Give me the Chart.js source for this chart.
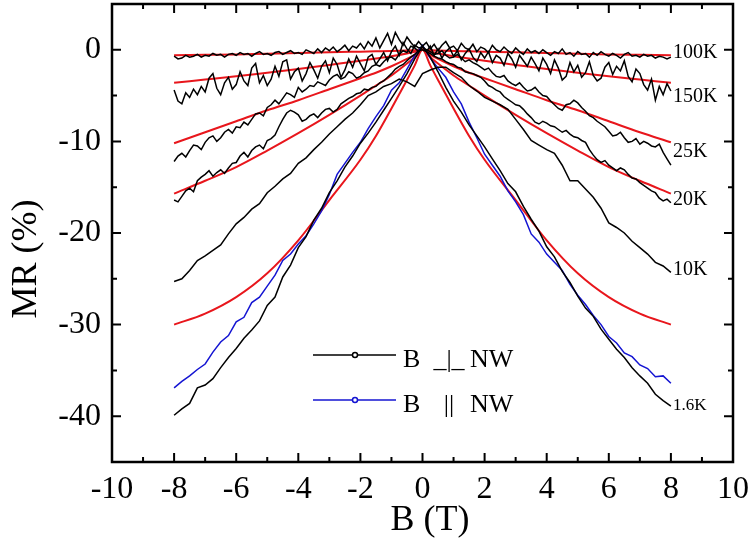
<!DOCTYPE html>
<html>
<head>
<meta charset="utf-8">
<title>MR vs B</title>
<script src="https://cdn.jsdelivr.net/npm/chart.js@4.4.0/dist/chart.umd.min.js"></script>
<style>
  html, body { margin: 0; padding: 0; background: #fff; }
  canvas { display: block; }
</style>
</head>
<body>
<canvas id="mrChart" width="754" height="549"></canvas>
<script>
// magnetic field (T), coarse grid for the low temperature curves
const bField = [-8,-7.75,-7.5,-7.25,-7,-6.75,-6.5,-6.25,-6,-5.75,-5.5,-5.25,-5,-4.75,-4.5,-4.25,
    -4,-3.75,-3.5,-3.25,-3,-2.75,-2.5,-2.25,-2,-1.75,-1.5,-1.25,-1,-0.75,-0.5,-0.25,
    0,0.25,0.5,0.75,1,1.25,1.5,1.75,2,2.25,2.5,2.75,3,3.25,3.5,3.75,
    4,4.25,4.5,4.75,5,5.25,5.5,5.75,6,6.25,6.5,6.75,7,7.25,7.5,7.75,8];

// fine grid for the noisier curves
const bFine = [-8,-7.875,-7.75,-7.625,-7.5,-7.375,-7.25,-7.125,
    -7,-6.875,-6.75,-6.625,-6.5,-6.375,-6.25,-6.125,
    -6,-5.875,-5.75,-5.625,-5.5,-5.375,-5.25,-5.125,
    -5,-4.875,-4.75,-4.625,-4.5,-4.375,-4.25,-4.125,
    -4,-3.875,-3.75,-3.625,-3.5,-3.375,-3.25,-3.125,
    -3,-2.875,-2.75,-2.625,-2.5,-2.375,-2.25,-2.125,
    -2,-1.875,-1.75,-1.625,-1.5,-1.375,-1.25,-1.125,
    -1,-0.875,-0.75,-0.625,-0.5,-0.375,-0.25,-0.125,
    0,0.125,0.25,0.375,0.5,0.625,0.75,0.875,
    1,1.125,1.25,1.375,1.5,1.625,1.75,1.875,
    2,2.125,2.25,2.375,2.5,2.625,2.75,2.875,
    3,3.125,3.25,3.375,3.5,3.625,3.75,3.875,
    4,4.125,4.25,4.375,4.5,4.625,4.75,4.875,
    5,5.125,5.25,5.375,5.5,5.625,5.75,5.875,
    6,6.125,6.25,6.375,6.5,6.625,6.75,6.875,
    7,7.125,7.25,7.375,7.5,7.625,7.75,7.875,
    8];

// MR (%) with B perpendicular to the nanowire (fine grid)
const mr100K = [-0.7,-1.0,-0.9,-0.6,-0.8,-0.7,-0.5,-0.8,
    -0.6,-0.7,-0.4,-0.6,-0.5,-0.8,-0.5,-0.4,
    -0.6,-0.3,-0.5,-0.4,-0.7,-0.4,-0.2,-0.5,
    -0.4,-0.6,-0.3,-0.2,-0.5,-0.3,-0.1,-0.4,
    -0.3,-0.5,0.0,-0.2,-0.4,0.1,-0.3,0.2,
    -0.1,0.3,-0.2,0.1,0.5,-0.1,0.4,0.2,
    0.7,0.1,0.9,0.4,1.3,0.2,1.0,1.8,
    0.6,1.9,1.1,0.5,1.4,0.8,0.3,0.9,
    0.4,0.8,0.1,0.6,-0.1,0.5,0.9,0.2,
    0.4,-0.1,0.7,0.2,0.0,0.6,-0.2,0.3,
    0.1,-0.3,0.5,0.0,-0.2,0.3,-0.1,-0.4,
    0.2,-0.2,-0.5,0.1,-0.3,-0.1,-0.4,0.0,
    -0.3,-0.6,-0.2,-0.4,0.1,-0.5,-0.3,-0.7,
    -0.2,-0.5,-0.4,-0.8,-0.3,-0.6,-0.2,-0.5,
    -0.7,-0.4,-0.6,-0.9,-0.5,-0.3,-0.7,-0.6,
    -0.8,-0.5,-0.7,-0.6,-0.9,-0.7,-0.8,-1.0,
    -0.8];
const mr150K = [-4.4,-5.6,-5.9,-4.7,-5.2,-4.3,-4.9,-4.0,
    -4.6,-3.1,-2.6,-4.2,-4.9,-3.6,-3.0,-4.3,
    -3.8,-2.4,-3.4,-3.9,-2.0,-1.5,-3.6,-2.8,
    -3.9,-3.2,-1.8,-2.9,-1.3,-1.1,-3.2,-2.4,
    -2.0,-3.4,-2.6,-1.4,-2.2,-3.1,-1.8,-1.2,
    -2.5,-0.9,-1.6,-3.0,-2.2,-1.0,-1.9,-0.7,
    -1.5,-2.3,-0.8,-0.5,-1.6,-1.0,-0.3,-1.2,
    -0.2,0.4,-0.6,0.8,0.1,-0.4,0.5,0.2,
    0.3,-0.2,0.4,-0.6,0.1,-0.9,-0.2,0.2,
    -0.7,-0.1,-1.1,-0.4,0.1,-0.8,-1.3,-0.3,
    -0.9,-0.2,-1.4,-0.6,-0.9,-1.7,-0.4,-1.0,
    -1.9,-0.6,-1.2,-1.8,-0.8,-1.5,-2.3,-0.9,
    -1.6,-2.6,-1.1,-2.0,-3.3,-2.9,-1.4,-2.4,
    -1.7,-3.0,-2.5,-1.3,-2.8,-3.4,-3.1,-1.9,
    -1.4,-2.7,-1.8,-2.3,-1.2,-2.9,-3.5,-2.1,
    -2.6,-3.8,-4.4,-3.2,-5.5,-4.0,-4.9,-3.7,
    -4.5];
const mr25K = [-12.2,-11.6,-11.3,-11.7,-11.0,-10.4,-10.5,-10.9,
    -10.1,-9.6,-9.4,-10.0,-9.6,-9.0,-8.7,-9.1,
    -8.4,-8.5,-7.9,-8.2,-7.6,-7.0,-6.9,-7.2,
    -6.3,-6.0,-5.5,-5.9,-5.3,-4.7,-4.9,-5.2,
    -4.1,-4.6,-4.3,-3.9,-4.0,-3.5,-3.7,-3.9,
    -3.3,-2.9,-2.7,-3.2,-3.0,-2.4,-2.6,-3.1,
    -2.9,-2.5,-2.3,-1.8,-1.6,-1.8,-1.3,-0.9,
    -0.8,-1.1,-0.5,-0.1,-0.3,0.4,0.2,-0.2,
    0.3,0.0,-0.2,-0.5,-0.4,-0.1,-0.6,-0.9,
    -0.8,-0.5,-0.9,-1.3,-1.1,-1.4,-1.6,-1.9,
    -2.2,-2.0,-2.5,-2.9,-3.0,-2.8,-3.4,-3.7,
    -3.9,-3.6,-4.1,-4.5,-4.4,-4.1,-4.6,-5.0,
    -5.1,-5.6,-6.0,-6.4,-6.6,-6.0,-5.9,-5.5,
    -5.8,-6.3,-6.7,-7.2,-7.4,-7.8,-8.1,-8.4,
    -8.9,-9.4,-9.3,-9.0,-9.6,-10.1,-10.0,-9.7,
    -10.3,-10.0,-10.2,-10.5,-10.6,-10.3,-11.2,-11.9,
    -12.6];
const mr20K = [-16.4,-16.6,-16.0,-15.4,-15.1,-15.5,-14.3,-13.9,
    -13.6,-13.2,-13.8,-13.4,-13.1,-13.5,-12.9,-12.4,
    -12.3,-11.6,-11.2,-11.7,-11.0,-10.6,-10.4,-10.8,
    -9.9,-9.7,-9.3,-8.4,-7.6,-6.9,-6.6,-6.8,
    -7.1,-7.8,-7.6,-7.2,-7.0,-7.4,-6.9,-6.5,
    -6.4,-6.8,-6.5,-5.9,-5.6,-5.3,-5.1,-4.8,
    -4.7,-4.3,-4.4,-4.1,-4.0,-3.6,-3.4,-3.0,
    -2.6,-2.1,-1.8,-1.6,-1.2,-0.8,-0.5,-0.1,
    0.0,-0.2,-0.4,-0.7,-0.9,-1.0,-1.3,-1.5,
    -1.6,-1.9,-2.0,-2.4,-2.5,-2.6,-2.8,-3.0,
    -3.4,-3.9,-4.1,-4.4,-4.6,-5.1,-5.4,-5.7,
    -6.0,-6.1,-6.5,-7.0,-7.4,-7.9,-8.1,-7.8,
    -8.0,-8.3,-8.4,-8.7,-9.0,-8.8,-9.2,-9.5,
    -9.6,-9.9,-10.1,-10.9,-11.5,-12.0,-12.3,-12.1,
    -12.6,-12.9,-13.2,-12.9,-13.1,-13.6,-14.0,-14.1,
    -14.5,-14.8,-15.1,-15.4,-15.6,-16.2,-16.5,-16.3,
    -16.7];

// MR (%) with B perpendicular to the nanowire (coarse grid)
const mr10K = [-25.3,-25.0,-24.1,-23.0,-22.5,-21.9,-21.3,-20.1,-19.0,-18.3,-17.4,-16.8,-15.6,-14.9,-14.1,-13.5,
    -12.4,-11.8,-10.9,-10.1,-9.2,-8.4,-7.6,-6.9,-6.0,-5.0,-4.6,-4.0,-3.7,-3.2,-3.5,-4.0,
    -2.6,-2.2,-1.9,-1.9,-2.5,-3.0,-3.9,-4.5,-5.2,-5.6,-6.0,-6.5,-7.6,-8.7,-9.9,-10.4,
    -10.9,-11.3,-12.6,-14.3,-14.3,-15.2,-16.1,-17.3,-18.9,-19.4,-20.0,-20.9,-21.6,-22.3,-23.2,-23.6,-24.3];
const mr1p6K = [-39.9,-39.2,-38.6,-36.9,-36.6,-35.9,-34.7,-33.6,-32.6,-31.5,-30.6,-29.6,-27.9,-27.0,-24.8,-23.5,
    -21.6,-20.4,-18.6,-17.3,-15.6,-14.3,-12.8,-11.6,-10.2,-9.1,-7.9,-6.6,-5.3,-4.0,-2.6,-1.0,
    0.4,-0.8,-2.4,-4.1,-5.6,-6.8,-8.2,-9.4,-10.6,-11.9,-13.2,-14.6,-15.5,-17.1,-18.5,-19.8,
    -21.5,-22.6,-24.2,-25.4,-26.9,-28.2,-29.1,-30.5,-31.6,-32.7,-33.6,-34.7,-35.6,-36.4,-37.6,-38.3,-38.9];

// MR (%) with B parallel to the nanowire, 1.6K
const mr1p6KPar = [-36.9,-36.2,-35.6,-34.9,-34.3,-33.0,-31.9,-31.2,-29.7,-29.2,-27.6,-27.0,-25.8,-24.6,-23.0,-22.3,
    -21.2,-20.3,-19.0,-17.6,-15.8,-13.6,-12.4,-11.2,-10.1,-8.6,-7.3,-6.1,-4.4,-3.6,-2.1,-0.6,
    0.5,-0.9,-2.0,-3.0,-4.6,-5.9,-7.9,-9.6,-11.4,-12.6,-13.8,-15.4,-16.6,-18.0,-20.1,-21.0,
    -22.3,-23.2,-24.1,-25.6,-26.8,-27.8,-29.0,-30.0,-31.3,-32.0,-33.1,-33.5,-34.4,-34.8,-35.7,-35.6,-36.4];

// fitted curves (red)
const fitB = [-8,-7,-6,-5,-4,-3,-2,-1.5,-1,-0.5,-0.25,0,0.25,0.5,1,1.5,2,3,4,5,6,7,8];
const fit100K = [-0.6,-0.55,-0.5,-0.42,-0.35,-0.28,-0.2,-0.16,-0.12,-0.07,-0.04,0,-0.04,-0.07,-0.12,-0.16,-0.2,-0.28,-0.35,-0.42,-0.5,-0.55,-0.6];
const fit150K = [-3.6,-3.25,-2.9,-2.5,-2.1,-1.65,-1.2,-0.95,-0.7,-0.4,-0.22,0,-0.22,-0.4,-0.7,-0.95,-1.2,-1.65,-2.1,-2.5,-2.9,-3.25,-3.6];
const fit25K = [-10.2,-9.0,-7.8,-6.6,-5.5,-4.3,-3.1,-2.5,-1.8,-1.0,-0.55,0,-0.55,-1.0,-1.8,-2.5,-3.1,-4.3,-5.5,-6.6,-7.8,-9.0,-10.1];
const fit20K = [-15.7,-14.3,-12.8,-11.0,-9.1,-7.1,-5.0,-3.9,-2.8,-1.5,-0.8,0,-0.8,-1.5,-2.8,-3.9,-5.0,-7.1,-9.1,-11.0,-12.8,-14.3,-15.7];
const fit1p6K = [-30.0,-28.8,-27.0,-24.4,-20.8,-16.4,-12.0,-9.4,-6.4,-3.3,-1.7,0,-1.7,-3.3,-6.4,-9.4,-12.0,-16.4,-20.8,-24.4,-27.0,-28.8,-30.0];

// labels
const tempLabels = ['100K', '150K', '25K', '20K', '10K', '1.6K'];
const tempLabelY = [-0.3, -5.1, -11.1, -16.4, -24.0, -38.8];
const legendLabels = ['B _|_ NW', 'B  || NW'];
const xMajorTicks = [-10, -8, -6, -4, -2, 0, 2, 4, 6, 8, 10];
const yMajorTicks = [-40, -30, -20, -10, 0];

const BLACK = '#000000';
const RED = '#e8161c';
const BLUE = '#1414d2';
const SERIF = '"Liberation Serif", "Times New Roman", serif';

function toPoints(xs, ys) {
    return xs.map((b, i) => ({ x: b, y: ys[i] }));
}

function measured(xs, values, color) {
    return {
        data: toPoints(xs, values),
        borderColor: color,
        borderWidth: 1.5,
        pointRadius: 0,
        tension: 0,
        fill: false
    };
}

function fitted(values) {
    return {
        data: toPoints(fitB, values),
        borderColor: RED,
        borderWidth: 2,
        pointRadius: 0,
        cubicInterpolationMode: 'monotone',
        fill: false
    };
}

// frame with inward ticks on all four sides
const framePlugin = {
    id: 'frame',
    afterDatasetsDraw(chart) {
        const { ctx, chartArea: a, scales: { x, y } } = chart;
        ctx.save();
        ctx.strokeStyle = BLACK;
        ctx.lineWidth = 2;
        ctx.beginPath();
        x.ticks.forEach(t => {
            if (t.value <= x.min || t.value >= x.max) return;
            const px = x.getPixelForValue(t.value);
            const len = xMajorTicks.includes(t.value) ? 9 : 5;
            ctx.moveTo(px, a.bottom); ctx.lineTo(px, a.bottom - len);
            ctx.moveTo(px, a.top); ctx.lineTo(px, a.top + len);
        });
        y.ticks.forEach(t => {
            if (t.value <= y.min || t.value >= y.max) return;
            const py = y.getPixelForValue(t.value);
            const len = yMajorTicks.includes(t.value) ? 9 : 5;
            ctx.moveTo(a.left, py); ctx.lineTo(a.left + len, py);
            ctx.moveTo(a.right, py); ctx.lineTo(a.right - len, py);
        });
        ctx.stroke();
        ctx.lineWidth = 2.5;
        ctx.strokeRect(a.left, a.top, a.right - a.left, a.bottom - a.top);
        ctx.restore();
    }
};

// temperature tags, legend and axis titles
const textPlugin = {
    id: 'texts',
    afterDraw(chart) {
        const { ctx, scales: { x, y } } = chart;
        ctx.save();
        ctx.fillStyle = BLACK;

        ctx.textAlign = 'left';
        ctx.textBaseline = 'middle';
        const tagX = x.getPixelForValue(8) + 2;
        tempLabels.forEach((lbl, i) => {
            ctx.font = (lbl === '1.6K' ? 17 : 20) + 'px ' + SERIF;
            ctx.fillText(lbl, tagX, y.getPixelForValue(tempLabelY[i]));
        });

        // legend
        const colors = [BLACK, BLUE];
        const rowY = [355, 400];
        legendLabels.forEach((lbl, i) => {
            const ly = rowY[i];
            ctx.strokeStyle = colors[i];
            ctx.lineWidth = 1.5;
            ctx.beginPath();
            ctx.moveTo(313, ly); ctx.lineTo(396, ly);
            ctx.stroke();
            ctx.beginPath();
            ctx.arc(355, ly, 2.5, 0, Math.PI * 2);
            ctx.fillStyle = '#fff';
            ctx.fill();
            ctx.stroke();

            const parts = lbl.split(' ').filter(p => p);
            ctx.fillStyle = BLACK;
            ctx.font = '26px ' + SERIF;
            ctx.textBaseline = 'alphabetic';
            ctx.textAlign = 'left';
            ctx.fillText(parts[0], 403, ly + 12);
            ctx.textAlign = 'center';
            ctx.fillText(parts[1], 449, ly + 12);
            ctx.textAlign = 'left';
            ctx.fillText(parts[2], 470, ly + 12);
        });

        // axis titles
        ctx.font = '36px ' + SERIF;
        ctx.textAlign = 'center';
        ctx.textBaseline = 'alphabetic';
        ctx.fillText('B (T)', 430, 530);
        ctx.translate(36, 259);
        ctx.rotate(-Math.PI / 2);
        ctx.fillText('MR (%)', 0, 0);
        ctx.restore();
    }
};

const ctx = document.getElementById('mrChart').getContext('2d');
window.mrChart = new Chart(ctx, {
    type: 'line',
    data: {
        datasets: [
            measured(bFine, mr100K, BLACK),
            measured(bFine, mr150K, BLACK),
            measured(bFine, mr25K, BLACK),
            measured(bFine, mr20K, BLACK),
            measured(bField, mr10K, BLACK),
            measured(bField, mr1p6K, BLACK),
            measured(bField, mr1p6KPar, BLUE),
            fitted(fit100K),
            fitted(fit150K),
            fitted(fit25K),
            fitted(fit20K),
            fitted(fit1p6K)
        ]
    },
    options: {
        responsive: false,
        animation: false,
        layout: { padding: { top: 4, right: 21, left: 0, bottom: 0 } },
        plugins: {
            legend: { display: false },
            tooltip: { enabled: false }
        },
        scales: {
            x: {
                type: 'linear',
                min: -10,
                max: 10,
                grid: { display: false, drawTicks: false },
                border: { display: false },
                ticks: {
                    stepSize: 1,
                    autoSkip: false,
                    maxRotation: 0,
                    padding: 8,
                    color: BLACK,
                    font: { family: SERIF, size: 32 },
                    callback: v => xMajorTicks.includes(v) ? String(v) : ''
                },
                afterFit: s => {
                    s.height = 87;
                    s.paddingLeft = 0;
                    s.paddingRight = 0;
                }
            },
            y: {
                type: 'linear',
                min: -45,
                max: 5,
                grid: { display: false, drawTicks: false },
                border: { display: false },
                ticks: {
                    stepSize: 5,
                    autoSkip: false,
                    padding: 11,
                    color: BLACK,
                    font: { family: SERIF, size: 32 },
                    callback: v => yMajorTicks.includes(v) ? String(v) : ''
                },
                afterFit: s => {
                    s.width = 112;
                    s.paddingTop = 0;
                    s.paddingBottom = 0;
                }
            }
        }
    },
    plugins: [framePlugin, textPlugin]
});
</script>
</body>
</html>
